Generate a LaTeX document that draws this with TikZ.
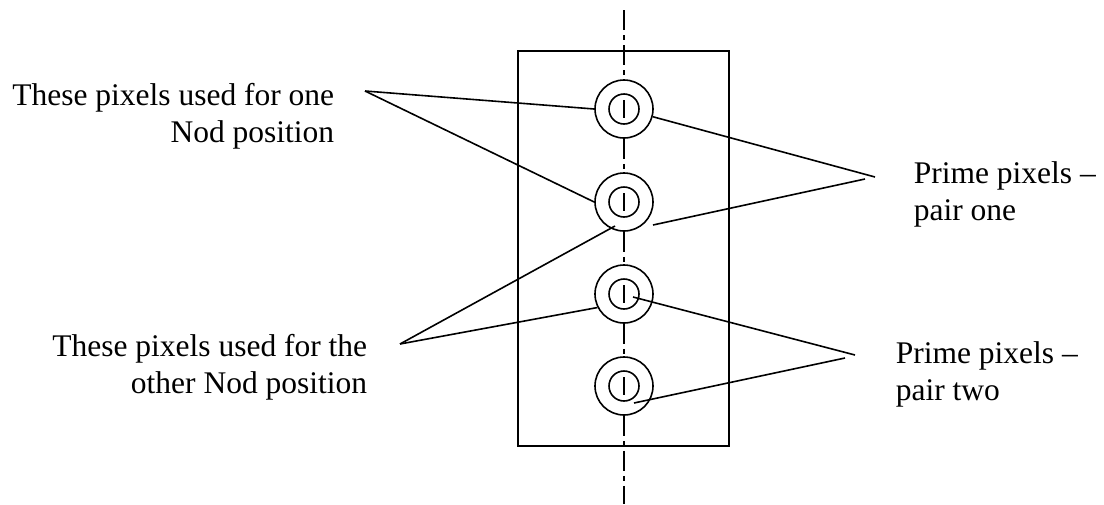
\documentclass[tikz,border=0pt]{standalone}
\usepackage{fontspec}
\setmainfont{Liberation Serif}
\begin{document}
\begin{tikzpicture}[x=1pt,y=-1pt,line width=1.6pt,
  lbl/.style={font=\fontsize{31.5}{37}\selectfont, inner sep=0pt},
  outer/.style={circle, draw, minimum size=58pt, inner sep=0pt},
  inner/.style={circle, draw, minimum size=30pt, inner sep=0pt},
  axis/.style={dash pattern=on 20pt off 5pt on 5pt off 5pt},
  lead/.style={line width=1.6pt}]
\useasboundingbox (0,0) rectangle (1104,504);
% frame
\draw (518,51) rectangle (729,446);
% pixels
\foreach \i/\y in {1/109,2/202,3/294,4/386}{
  \node[outer] (o\i) at (624,\y) {};
  \node[inner] (i\i) at (624,\y) {};
  \draw ([yshift=9pt]i\i.center) -- ([yshift=-9pt]i\i.center);
}
% centre line
\coordinate (top) at (624,10);
\coordinate (bot) at (624,504);
\draw[axis] (top) -- (o1.north);
\draw[axis] (o1.south) -- (o2.north);
\draw[axis] (o2.south) -- (o3.north);
\draw[axis] (o3.south) -- (o4.north);
\draw[axis] (o4.south) -- (bot);
% labels
\node[lbl, align=right, anchor=base east] (t1) at (335,142) {These pixels used for one\\Nod position};
\node[lbl, align=right, anchor=base east] (t2) at (368,393) {These pixels used for the\\other Nod position};
\node[lbl, align=left, anchor=base west] (t3) at (913,220) {Prime pixels --\\pair one};
\node[lbl, align=left, anchor=base west] (t4) at (895,400) {Prime pixels --\\pair two};
% leader lines
\coordinate (a1) at (365,91);
\draw[lead] (a1) -- (o1.west);
\draw[lead] (a1) -- (o2.west);
\coordinate (a2) at (400,344);
\coordinate (e2) at (615,226);
\draw[lead] (a2) -- (e2);
\draw[lead] (a2) -- (o3.207);
\coordinate (a3) at (875,177);
\coordinate (a3b) at (865,179);
\coordinate (e3) at (653,225);
\draw[lead] (o1.-15) -- (a3);
\draw[lead] (e3) -- (a3b);
\coordinate (a4) at (855,355);
\coordinate (a4b) at (845,358);
\coordinate (s4) at (633,297);
\coordinate (e4) at (634,403);
\draw[lead] (s4) -- (a4);
\draw[lead] (e4) -- (a4b);
\end{tikzpicture}
\end{document}
